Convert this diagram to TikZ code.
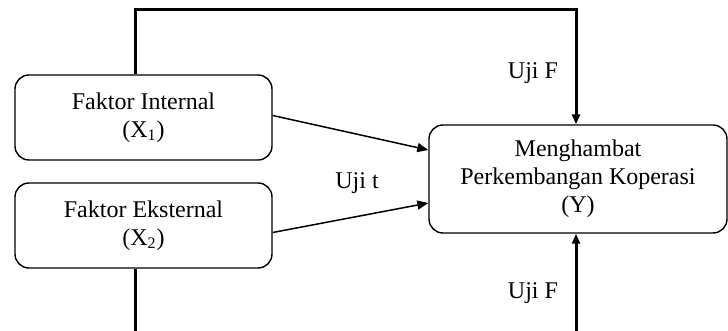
\documentclass[tikz,border=0pt]{standalone}
\usepackage{fontspec}
\setmainfont{Liberation Serif}
\usepackage{tikz}
\usetikzlibrary{arrows.meta}

\begin{document}
\begin{tikzpicture}[x=0.5pt, y=-0.5pt,
    every node/.style={font=\fontsize{12}{14}\selectfont},
    factor/.style={draw, line width=0.7pt, rounded corners=7pt, align=center,
      minimum width=128.5pt, minimum height=42.5pt, inner sep=0pt},
    result/.style={factor, minimum width=149pt, minimum height=54pt},
    partial/.style={line width=0.75pt, -{Triangle[length=5.5pt, width=4.5pt]}},
    joint/.style={line width=1.5pt},
    jointarrow/.style={joint, -{Triangle[length=5pt, width=4pt]}}]
  \useasboundingbox (0,0) rectangle (728,331);
  %% *** Variables ***
  \node [factor] (x1) at (143.5,117.5) {Faktor Internal\\(X\textsubscript{1})};
  \node [factor] (x2) at (143.5,225.5) {Faktor Eksternal\\(X\textsubscript{2})};
  \node [result] (y) at (578,179) {Menghambat\\Perkembangan Koperasi\\(Y)};
  %% *** Uji t ***
  \draw [partial] ([yshift=1pt]x1.east) -- ([yshift=14.5pt]y.west);
  \draw [partial] ([yshift=-3.5pt]x2.east) -- ([yshift=-12pt]y.west);
  \node (ujit) at (357,183) {Uji t};
  %% *** Uji F ***
  \coordinate (ftop) at (355,10);
  \coordinate (fbot) at (355,334);
  \draw [jointarrow] ([xshift=-4.25pt]x1.north) |- (ftop) -| ([xshift=-1pt]y.north);
  \draw [joint] ([xshift=-4.25pt]x2.south) -- ([xshift=-4.25pt]x2.south |- fbot);
  \draw [jointarrow] ([xshift=-1pt]y.south |- fbot) -- ([xshift=-1pt]y.south);
  \node (ujif1) at (533,73) {Uji F};
  \node (ujif2) at (533,293) {Uji F};
\end{tikzpicture}
\end{document}
